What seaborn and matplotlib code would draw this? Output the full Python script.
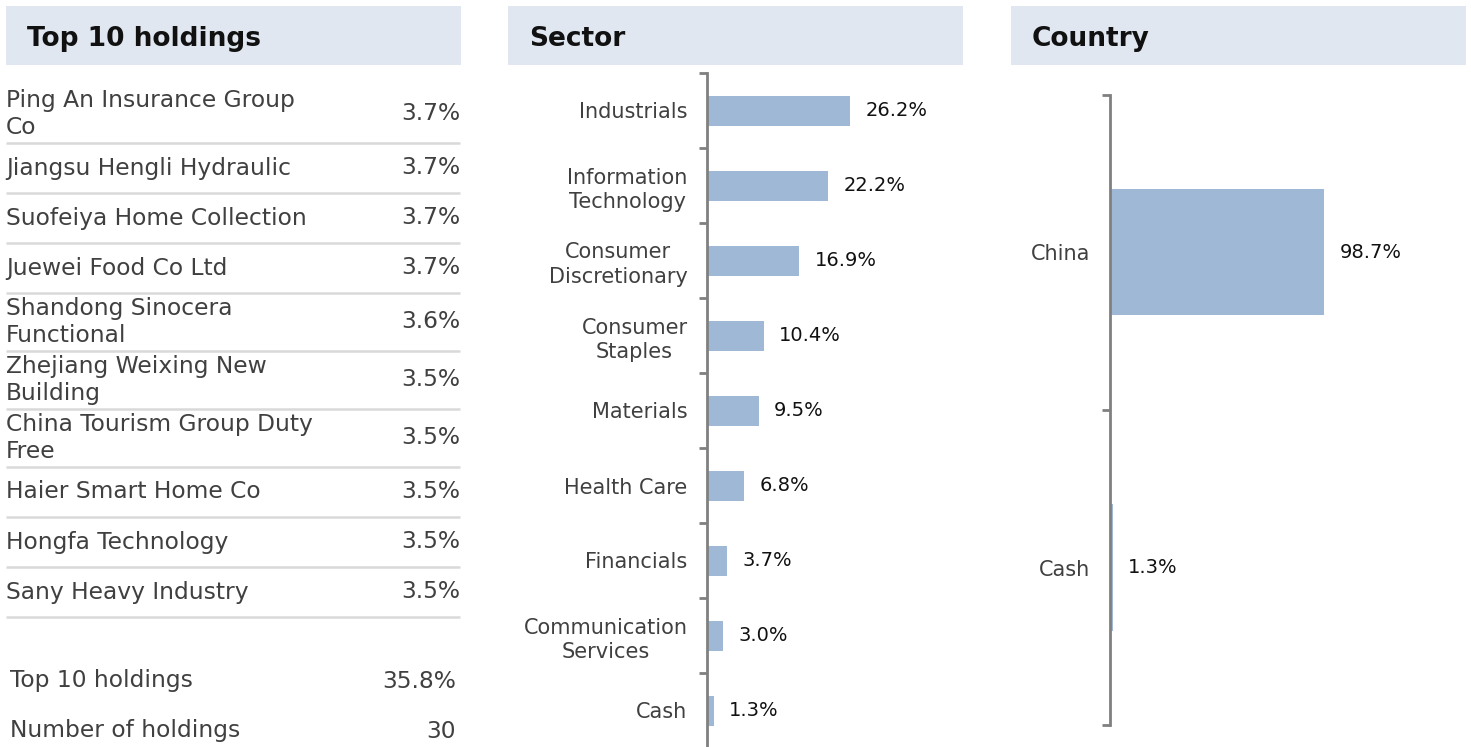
import numpy as np
import pandas as pd
import seaborn as sns
import matplotlib.pyplot as plt
from matplotlib.patches import Rectangle

# Data
holdings = [
    "Ping An Insurance Group\nCo",
    "Jiangsu Hengli Hydraulic",
    "Suofeiya Home Collection",
    "Juewei Food Co Ltd",
    "Shandong Sinocera\nFunctional",
    "Zhejiang Weixing New\nBuilding",
    "China Tourism Group Duty\nFree",
    "Haier Smart Home Co",
    "Hongfa Technology",
    "Sany Heavy Industry",
]
holding_weights = [3.7, 3.7, 3.7, 3.7, 3.6, 3.5, 3.5, 3.5, 3.5, 3.5]
summary_labels = ["Top 10 holdings", "Number of holdings"]
summary_values = ["35.8%", "30"]

sectors = [
    "Industrials",
    "Information\nTechnology",
    "Consumer\nDiscretionary",
    "Consumer\nStaples",
    "Materials",
    "Health Care",
    "Financials",
    "Communication\nServices",
    "Cash",
]
sector_weights = [26.2, 22.2, 16.9, 10.4, 9.5, 6.8, 3.7, 3.0, 1.3]

countries = ["China", "Cash"]
country_weights = [98.7, 1.3]

panel_titles = ["Top 10 holdings", "Sector", "Country"]

# Style
sns.set_theme(style="white")
plt.rcParams['font.family'] = ['DejaVu Sans']

W, H = 1471, 747
BAR = "#9FB8D6"
HEAD = "#E0E7F1"
TXT = "#404040"
AXC = "#808080"

fig = plt.figure(figsize=(W / 100, H / 100), dpi=100)
fig.patch.set_facecolor("white")

# pixel-space background axes for headers + table
bg = fig.add_axes([0, 0, 1, 1])
bg.set_xlim(0, W)
bg.set_ylim(H, 0)
bg.axis("off")

for left, title in zip([6, 508, 1011], panel_titles):
    bg.add_patch(Rectangle((left, 6), 455, 59, color=HEAD, lw=0))
    bg.text(left + 21, 39, title, fontsize=19, fontweight="bold",
            color="#111111", va="center", ha="left")

# holdings table
TFS = 16.8
y = 85
for name, w in zip(holdings, holding_weights):
    h = 58 if "\n" in name else 50
    mid = y + h / 2
    bg.text(6, mid, name, fontsize=TFS, color=TXT, va="center", ha="left",
            linespacing=1.2)
    bg.text(460, mid, f"{w}%", fontsize=TFS, color=TXT, va="center", ha="right")
    y += h
    bg.plot([6, 460], [y, y], color="#D9D9D9", lw=1.8, solid_capstyle="butt")

for i, (lab, val) in enumerate(zip(summary_labels, summary_values)):
    bg.text(10, 681 + 50 * i, lab, fontsize=TFS, color=TXT, va="center", ha="left")
    bg.text(456, 681 + 50 * i, val, fontsize=TFS, color=TXT, va="center", ha="right")


def px_axes(x0, y0, x1, y1):
    return fig.add_axes([x0 / W, 1 - y1 / H, (x1 - x0) / W, (y1 - y0) / H])


def bar_panel(ax, cats, vals, xmax, fs, vfs):
    df = pd.DataFrame({"cat": cats, "val": vals})
    sns.barplot(data=df, x="val", y="cat", color=BAR, width=0.4, ax=ax,
                saturation=1, edgecolor="none")
    n = len(cats)
    ax.set_xlim(0, xmax)
    ax.set_ylim(n - 0.5, -0.5)
    ax.set_facecolor("none")
    for s in ["top", "right", "bottom"]:
        ax.spines[s].set_visible(False)
    ax.spines["left"].set_color(AXC)
    ax.spines["left"].set_linewidth(2)
    ax.set_xticks([])
    ax.set_xlabel("")
    ax.set_ylabel("")
    ax.set_yticks(np.arange(n))
    ax.set_yticklabels(cats, fontsize=fs, color=TXT, linespacing=1.3)
    ax.tick_params(axis="y", which="major", left=True, length=0, pad=14)
    ax.set_yticks(np.arange(n + 1) - 0.5, minor=True)
    ax.tick_params(axis="y", which="minor", left=True, length=6, width=2,
                   color=AXC)
    for lbl in ax.get_yticklabels():
        lbl.set_horizontalalignment("right")
        lbl.set_multialignment("center")
    ax.bar_label(ax.containers[0], labels=[f"{v:.1f}%" for v in vals],
                 padding=11, fontsize=vfs, color="#111111")


ax_s = px_axes(707, 73, 963, 748)
bar_panel(ax_s, sectors, sector_weights, 46.9, 15, 14)

ax_c = px_axes(1110, 95, 1466, 725)
bar_panel(ax_c, countries, country_weights, 164, 15, 14)

plt.savefig("out.png", dpi=100, facecolor="white")
